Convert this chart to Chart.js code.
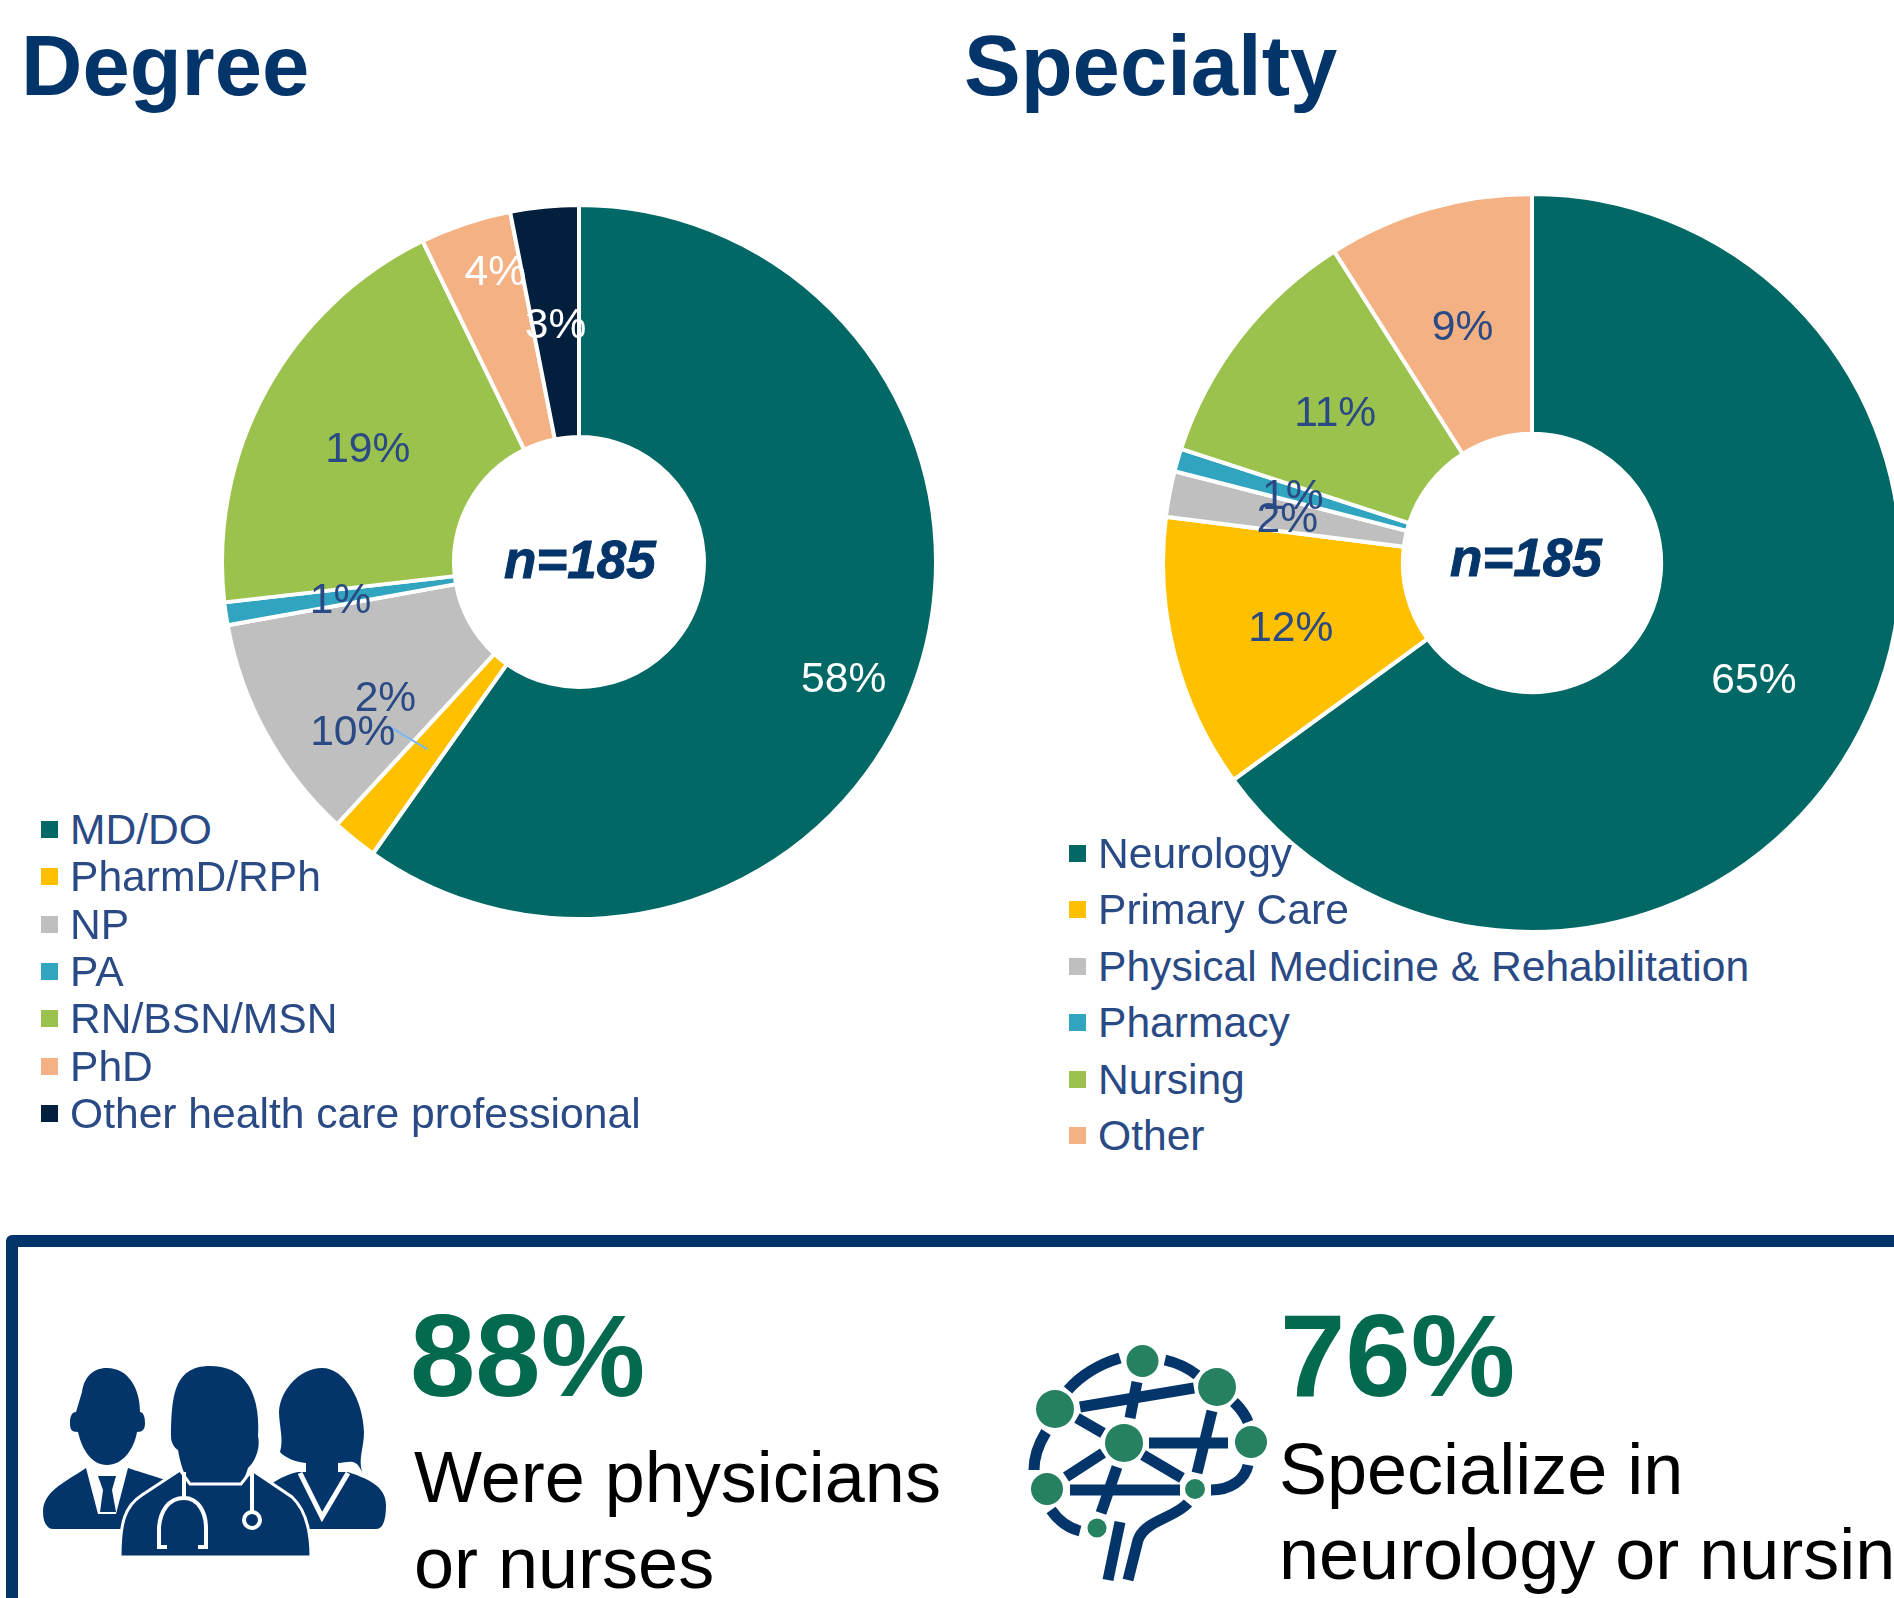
<!DOCTYPE html>
<html>
<head>
<meta charset="utf-8">
<title>Degree and Specialty</title>
<script src="https://cdn.jsdelivr.net/npm/chart.js@4/dist/chart.umd.min.js"></script>
<style>
html,body{margin:0;padding:0;background:#fff;}
body{position:relative;width:1894px;height:1598px;overflow:hidden;font-family:"Liberation Sans",Arial,sans-serif;}
canvas{position:absolute;}
.t{position:absolute;white-space:nowrap;}
.title{font-size:85px;line-height:90px;font-weight:bold;color:#04356a;}
.n{font-size:53px;line-height:60px;font-weight:bold;font-style:italic;color:#04356a;-webkit-text-stroke:1px #04356a;}
.big{font-size:117.500px;line-height:116px;font-weight:bold;color:#03694f;}
.sub{font-size:72px;color:#000;}
.legend{position:absolute;font-size:42.600px;color:#2a4a85;}
.legend div{position:absolute;left:0;white-space:nowrap;}
.legend i{position:absolute;width:17px;height:17px;}
#box{position:absolute;left:6px;top:1235px;width:2000px;height:600px;border:12px solid #04356a;border-radius:6px;}
svg{position:absolute;}
</style>
</head>
<body>
<canvas id="degreeChart" width="718" height="718" style="left:220px;top:203px"></canvas>
<canvas id="specialtyChart" width="742" height="742" style="left:1161px;top:192px"></canvas>

<div class="t title" style="left:21px;top:21px">Degree</div>
<div class="t title" style="left:964px;top:21px">Specialty</div>
<div class="t n" style="left:504px;top:530px">n=185</div>
<div class="t n" style="left:1450px;top:528px">n=185</div>

<div class="legend" id="degreeLegend"></div>
<div class="legend" id="specialtyLegend"></div>

<div id="box"></div>

<!-- people icon -->
<svg style="left:0;top:1200px" width="420" height="398" viewBox="0 0 420 398">
  <g fill="#04356a">
    <path d="M107 168C92 168 84 178 82 192L76 212C71 212 70 218 70 223C70 229 71 232 78 232C82 250 92 265 107 265C122 265 134 250 137 232C143 232 145 229 145 223C145 216 143 212 140 212C140 188 128 168 107 168Z"/>
    <path d="M86 268C62 284 43 292 43 312C43 322 47 329 53 329L190 329L190 290C170 280 145 274 128 268Z"/>
    <path d="M322 168C345 168 363 200 364 232C364 248 358 258 362 272C356 258 350 262 338 263L338 285L306 285L306 263C296 262 285 258 280 252C284 240 279 225 279 212C280 190 300 168 322 168Z"/>
    <path d="M298 272C280 276 261 288 261 300L261 329L376 329C383 329 386 320 386 305C386 285 365 278 348 272Z"/>
    <path d="M171 236C172 200 172 166 210 166C250 166 260 200 258 236C261 250 254 262 248 268C245 278 241 284 241 284L241 300L190 300L190 284C184 276 180 262 178 250C172 246 171 240 171 236Z"/>
    <path d="M120 357C120 322 125 306 142 295L180 270L190 284L241 284L252 270L292 297C306 310 311 330 311 357Z" stroke="#fff" stroke-width="3"/>
  </g>
  <g fill="none" stroke="#fff" stroke-width="4">
    <path d="M184 272L184 298C168 298 160 312 159 328L159 347L167 347"/>
    <path d="M184 298C198 298 206 312 206 328L206 347L198 347"/>
    <path d="M252 272L252 311"/>
    <circle cx="252" cy="320" r="8"/>
    <path d="M300 273L322 317L348 273" stroke-width="5"/>
  </g>
  <path d="M86 268L128 268L116 314L98 314Z" fill="#fff"/>
  <path d="M98 276L116 276L112 290L116 312L100 312L103 290Z" fill="#04356a"/>
</svg>

<!-- brain icon -->
<svg style="left:1000px;top:1200px" width="290" height="398" viewBox="0 0 290 398">
  <g fill="none" stroke="#04356a" stroke-width="11">
    <path d="M68 190C82 174 100 164 120 158"/>
    <path d="M165 160C178 163 188 168 197 175"/>
    <path d="M234 202C240 208 245 214 248 222"/>
    <path d="M34 270C34 258 38 245 46 232"/>
    <path d="M248 265C245 280 230 290 211 290"/>
    <path d="M51 310C58 320 68 328 80 331"/>
    <path d="M108 380L120 322"/>
    <path d="M128 380L138 340C145 320 175 318 188 303"/>
    <path d="M80 207L194 188"/>
    <path d="M137 182L130 218"/>
    <path d="M77 218L103 233"/>
    <path d="M149 243L228 243"/>
    <path d="M212 211L197 273"/>
    <path d="M103 253L66 277"/>
    <path d="M143 255L182 278"/>
    <path d="M70 290L180 290"/>
    <path d="M117 267L101 313"/>
  </g>
  <g fill="#25815f">
    <circle cx="142.500" cy="161" r="16"/>
    <circle cx="217" cy="187" r="19"/>
    <circle cx="55" cy="209" r="19"/>
    <circle cx="124" cy="243" r="19"/>
    <circle cx="251" cy="242" r="16"/>
    <circle cx="47" cy="289" r="16"/>
    <circle cx="195" cy="289" r="10"/>
    <circle cx="97" cy="328" r="9.500"/>
  </g>
</svg>

<div class="t big" style="left:410px;top:1298px">88%</div>
<div class="t sub" style="left:414px;top:1434px;line-height:86px">Were physicians<br>or nurses</div>
<div class="t big" style="left:1280px;top:1298px">76%</div>
<div class="t sub" style="left:1279px;top:1427px;line-height:85px">Specialize in<br>neurology or nursing</div>

<script>
// Data
const degreeLabels = ['MD/DO','PharmD/RPh','NP','PA','RN/BSN/MSN','PhD','Other health care professional'];
const degreeValues = [58,2,10,1,19,4,3];
const degreeColors = ['#016866','#ffc000','#bfbfbf','#31a4c0','#9bc24c','#f4b183','#021f3d'];
const degreeText = ['#ffffff','#2a4a85','#2a4a85','#2a4a85','#2a4a85','#ffffff','#ffffff'];

const specialtyLabels = ['Neurology','Primary Care','Physical Medicine & Rehabilitation','Pharmacy','Nursing','Other'];
const specialtyValues = [65,12,2,1,11,9];
const specialtyColors = ['#016866','#ffc000','#bfbfbf','#31a4c0','#9bc24c','#f4b183'];
const specialtyText = ['#ffffff','#2a4a85','#2a4a85','#2a4a85','#2a4a85','#2a4a85'];

// Labels sit on the slice centre, a few were moved by hand in the original
const pieLabels = {
  id:'pieLabels',
  afterDatasetsDraw(chart, args, opts){
    const ctx = chart.ctx;
    const arcs = chart.getDatasetMeta(0).data;
    const values = chart.data.datasets[0].data;
    ctx.save();
    ctx.font = '42.6px "Liberation Sans", Arial, sans-serif';
    ctx.textAlign = 'center';
    ctx.textBaseline = 'middle';
    arcs.forEach((arc,i)=>{
      const c = arc.getCenterPoint();
      const s = (opts.shift && opts.shift[i]) || [0,0];
      if (opts.leader === i){
        ctx.strokeStyle = '#7db8f0';
        ctx.lineWidth = 2;
        ctx.beginPath();
        ctx.moveTo(c.x + s[0] + 2, c.y + s[1] + 30);
        ctx.lineTo(c.x, c.y);
        ctx.stroke();
      }
      ctx.fillStyle = opts.colors[i];
      ctx.fillText(values[i]+'%', c.x + s[0], c.y + s[1] + 4);
    });
    ctx.restore();
  }
};

function makePie(id, labels, values, colors, cutout, labelOpts){
  return new Chart(document.getElementById(id), {
    type:'doughnut',
    data:{ labels:labels, datasets:[{ data:values, backgroundColor:colors, borderColor:'#ffffff', borderWidth:4 }] },
    options:{
      responsive:false,
      animation:false,
      cutout:cutout,
      plugins:{ legend:{display:false}, tooltip:{enabled:false}, pieLabels:labelOpts }
    },
    plugins:[pieLabels]
  });
}

makePie('degreeChart', degreeLabels, degreeValues, degreeColors, '35%', {
  colors:degreeText,
  leader:1,
  shift:{0:[35,41], 1:[-42,-54], 2:[-15,51], 5:[-7,-64]}
});
makePie('specialtyChart', specialtyLabels, specialtyValues, specialtyColors, '35%', {
  colors:specialtyText,
  shift:{0:[0,1]}
});

// HTML legends
function makeLegend(id, labels, colors, left, top, swatch, step){
  const wrap = document.getElementById(id);
  wrap.style.left = left+'px';
  wrap.style.top = top+'px';
  labels.forEach((name,i)=>{
    const y = i*step;
    const row = document.createElement('div');
    row.style.top = y+'px';
    row.style.lineHeight = '46px';
    row.style.left = '0px';
    row.innerText = name;
    wrap.appendChild(row);
    const sq = document.createElement('i');
    sq.style.background = colors[i];
    sq.style.left = swatch+'px';
    sq.style.top = (y+15)+'px';
    wrap.appendChild(sq);
  });
}
makeLegend('degreeLegend', degreeLabels, degreeColors, 70, 806, -29, 47.300);
makeLegend('specialtyLegend', specialtyLabels, specialtyColors, 1098, 830, -29, 56.400);
</script>
</body>
</html>
